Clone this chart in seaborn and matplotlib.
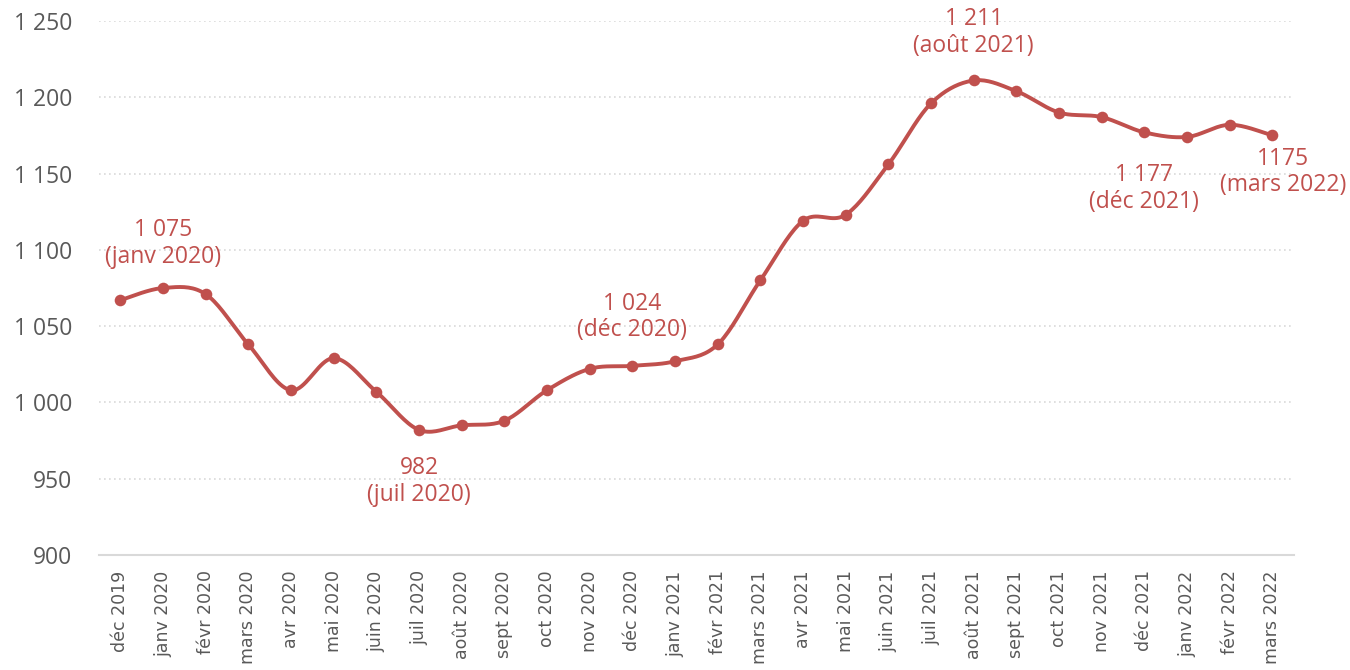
import numpy as np
import pandas as pd
import matplotlib
matplotlib.use("Agg")
import matplotlib.pyplot as plt
import seaborn as sns

# --- data ---
months = ["déc 2019", "janv 2020", "févr 2020", "mars 2020", "avr 2020", "mai 2020",
          "juin 2020", "juil 2020", "août 2020", "sept 2020", "oct 2020", "nov 2020",
          "déc 2020", "janv 2021", "févr 2021", "mars 2021", "avr 2021", "mai 2021",
          "juin 2021", "juil 2021", "août 2021", "sept 2021", "oct 2021", "nov 2021",
          "déc 2021", "janv 2022", "févr 2022", "mars 2022"]
values = [1067, 1075, 1071, 1038, 1008, 1029, 1007, 982, 985, 988, 1008, 1022,
          1024, 1027, 1038, 1080, 1119, 1123, 1156, 1196, 1211, 1204, 1190, 1187,
          1177, 1174, 1182, 1175]

ann_month = ["janv 2020", "juil 2020", "déc 2020", "août 2021", "déc 2021", "mars 2022"]
ann_text = ["1 075\n(janv 2020)", "982\n(juil 2020)", "1 024\n(déc 2020)",
            "1 211\n(août 2021)", "1 177\n(déc 2021)", "1175\n(mars 2022)"]
ann_dx = [0, 0, 0, 0, 0, 0.26]
ann_y = [1104, 948, 1056, 1242.5, 1140, 1151]

yticks = [900, 950, 1000, 1050, 1100, 1150, 1200, 1250]

RED = "#C0504D"
GREY = "#595959"

df = pd.DataFrame({"mois": months, "valeur": values})
df["pos"] = np.arange(len(df))


# smoothed line like the spreadsheet "smooth line" option (Catmull-Rom through the points)
def catmull_rom(x, y, n=20):
    x = np.asarray(x, float)
    y = np.asarray(y, float)
    px = np.r_[x[0], x, x[-1]]
    py = np.r_[y[0], y, y[-1]]
    t = np.linspace(0, 1, n, endpoint=False)
    xs, ys = [], []
    for i in range(1, len(px) - 2):
        for p, out in ((py, ys), (px, xs)):
            p0, p1, p2, p3 = p[i - 1], p[i], p[i + 1], p[i + 2]
            out.append(0.5 * ((2 * p1) + (-p0 + p2) * t + (2 * p0 - 5 * p1 + 4 * p2 - p3) * t ** 2
                              + (-p0 + 3 * p1 - 3 * p2 + p3) * t ** 3))
    xs.append([x[-1]])
    ys.append([y[-1]])
    return np.concatenate(xs), np.concatenate(ys)


sx, sy = catmull_rom(df["pos"], df["valeur"])
smooth = pd.DataFrame({"x": sx, "y": sy})

sns.set_style("white")
plt.rcParams["font.family"] = ["Open Sans", "DejaVu Sans"]

fig = plt.figure(figsize=(13.5, 6.7), dpi=100)
ax = fig.add_axes([0.0733, 0.1716, 0.885, 0.7971])

# dotted grid
for v in yticks[1:]:
    ax.axhline(v, color="#D9D9D9", lw=1.2, ls=(0, (1, 2)), zorder=0)

sns.lineplot(data=smooth, x="x", y="y", color=RED, lw=2.8, ax=ax, sort=False, zorder=3)
sns.scatterplot(data=df, x="pos", y="valeur", color=RED, s=70, edgecolor=RED,
                linewidth=0, ax=ax, zorder=4)

pos_of = dict(zip(months, df["pos"]))
for m, txt, dx, yy in zip(ann_month, ann_text, ann_dx, ann_y):
    ax.text(pos_of[m] + dx, yy, txt, ha="center", va="center", color=RED,
            fontsize=16.5, linespacing=1.15, zorder=5, clip_on=False)

ax.set_xlim(-0.5, len(months) - 0.5)
ax.set_ylim(900, 1250)
ax.set_yticks(yticks)
ax.set_yticklabels([f"{v:,}".replace(",", " ") for v in yticks], fontsize=16.5, color=GREY)
ax.set_xticks(df["pos"])
ax.set_xticklabels(months, rotation=90, fontsize=12.5, color=GREY,
                   family=["Liberation Sans Narrow", "DejaVu Sans"])
ax.set_xticks(np.arange(-0.5, len(months), 1), minor=True)
ax.tick_params(axis="x", which="major", length=0, pad=11)
ax.tick_params(axis="x", which="minor", length=8, color="#D9D9D9", width=1.2)
ax.tick_params(axis="y", length=0, pad=19)
ax.set_xlabel("")
ax.set_ylabel("")
for s in ["top", "right", "left"]:
    ax.spines[s].set_visible(False)
ax.spines["bottom"].set_color("#D9D9D9")
ax.spines["bottom"].set_linewidth(1.5)

fig.savefig("out.png", dpi=100)
